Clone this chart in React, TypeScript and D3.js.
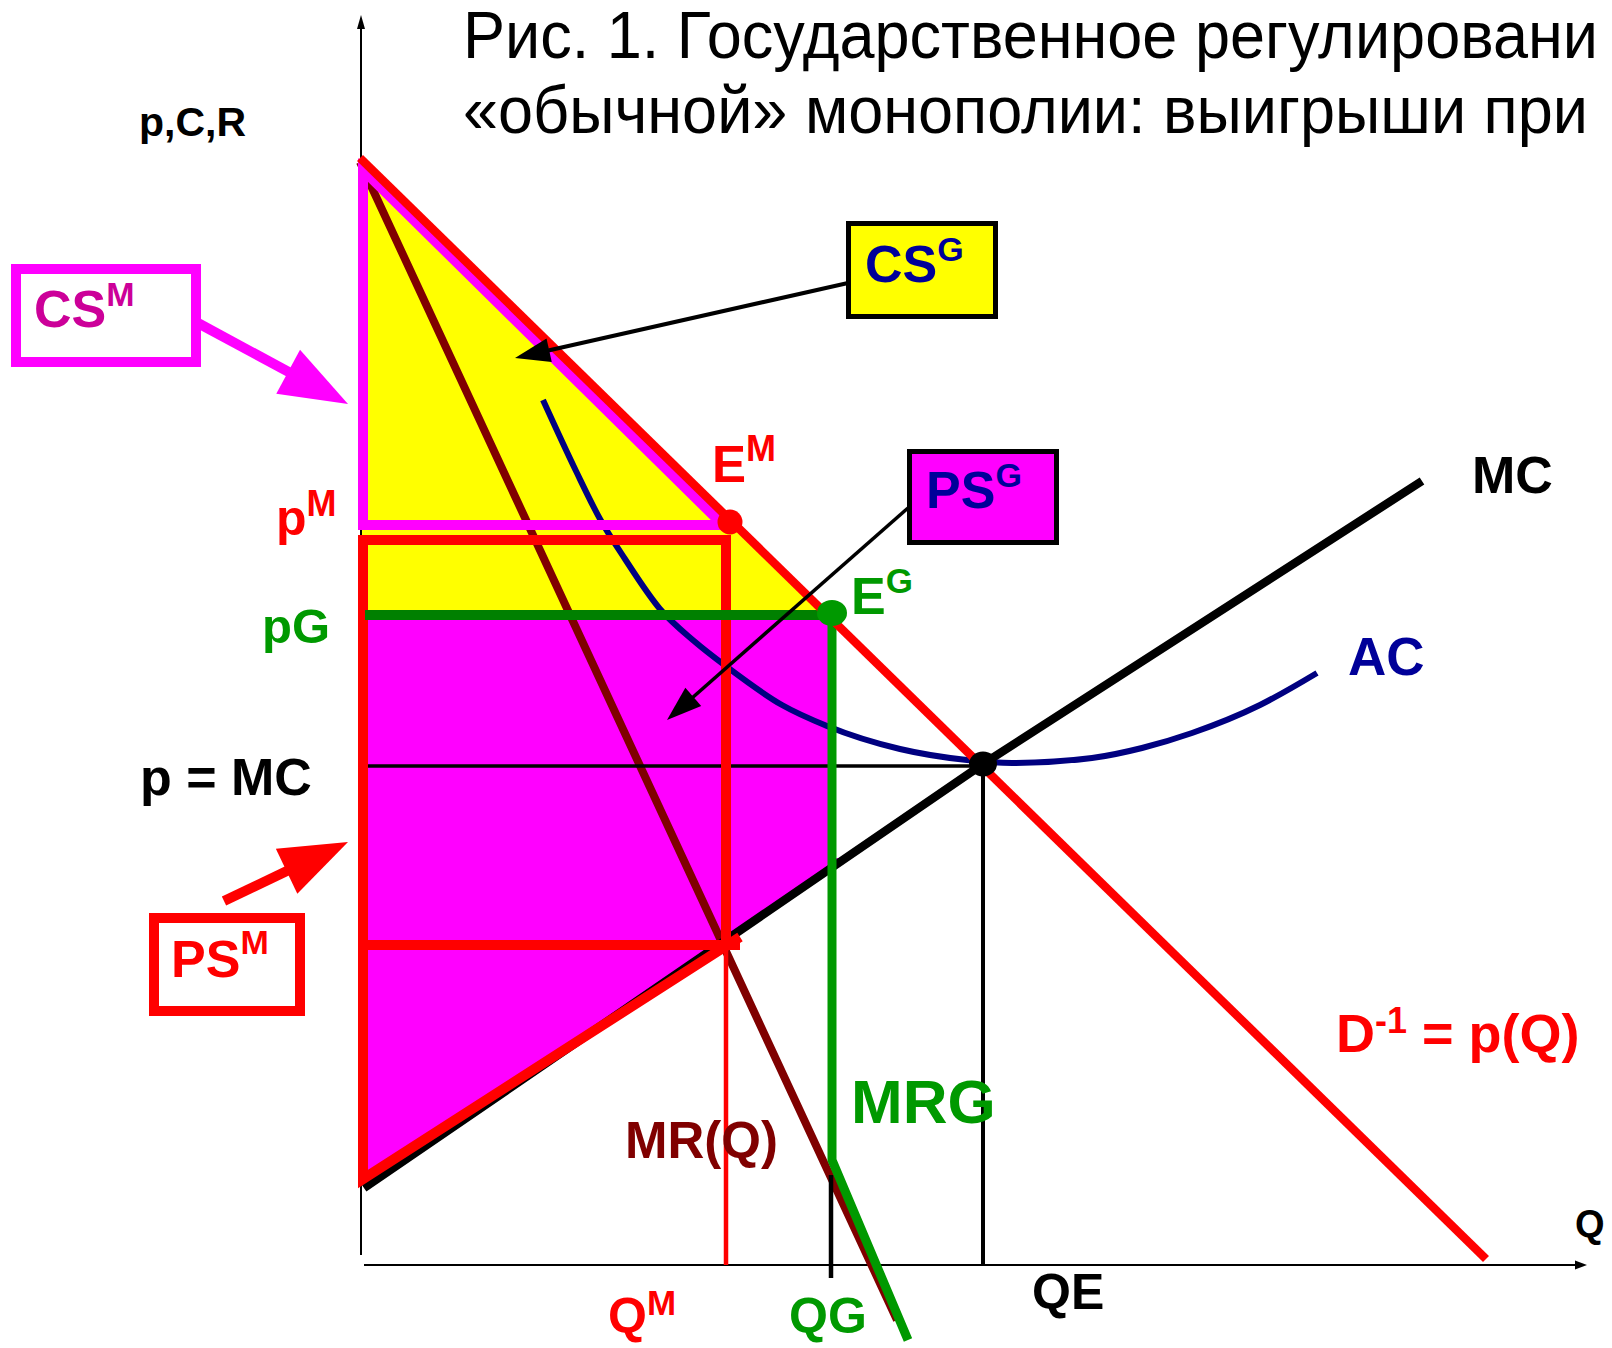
import React from "react";
import * as d3 from "d3";

type P = [number, number];

// ---- data (Q, p) ----
const demandPts: P[] = [[-0.2, 110.7], [112.4, 0.6]];
const mcPts: P[] = [[0.2, 7.7], [62.1, 50.1], [106.0, 78.4]];
const mrPts: P[] = [[-0.2, 110.3], [36.2, 31.8], [53.5, -5.5]];
const acPts: P[] = [
  [18.1, 86.5], [21.4, 79.4], [23.8, 74.6], [26.3, 70.6], [29.8, 65.6], [33.2, 62.4],
  [36.5, 59.8], [42.0, 56.0], [46.5, 53.9], [53.8, 51.6], [60.5, 50.5], [65.0, 50.2],
  [73.0, 50.7], [78.0, 51.7], [83.0, 53.2], [89.8, 56.0], [95.5, 59.2],
];
const mrgPts: P[] = [[47, 65.2], [47, 10.5], [54.6, -7.5]];
const csMOutline: P[] = [[0.1, 109.5], [36.1, 74.0], [0.1, 74.0]];
const csGArea: P[] = [[0, 110.5], [46.5, 65], [0, 65]];
const psGArea: P[] = [[0, 65], [47, 65], [47, 40.7], [48.4, 40.7], [0.2, 7.7]];
const psMFrame: P[] = [[37.8, 32.8], [0.1, 8.6], [0.1, 72.5], [36.4, 72.5], [36.4, 32]];
const psMBar: P[] = [[0.1, 32], [37.8, 32]];

const QM = 36.4;
const QG = 46.9;
const QE = 62.1;
const pE = 49.9;
const pG = 65;
const EM: P = [36.8, 74.3];
const EG: P = [47, 65.2];
const E: P = [62.1, 50.1];

const titleLines = ["Рис. 1. Государственное регулировани", "«обычной» монополии: выигрыши при"];

const FONT = "Liberation Sans, Arial, sans-serif";
const RED = "#FF0000";
const MAG = "#FF00FF";
const GREEN = "#009900";
const DGREEN = "#008000";
const NAVY = "#000099";
const MAROON = "#800000";

function Arrow({ from, to, w, hl, hw, color }: { from: P; to: P; w: number; hl: number; hw: number; color: string }) {
  const dx = to[0] - from[0];
  const dy = to[1] - from[1];
  const L = Math.hypot(dx, dy);
  const ux = dx / L, uy = dy / L;
  const bx = to[0] - ux * hl, by = to[1] - uy * hl;
  const px = -uy, py = ux;
  const head = `M${to[0]},${to[1]} L${bx + px * hw},${by + py * hw} L${bx - px * hw},${by - py * hw} Z`;
  return (
    <g>
      <line x1={from[0]} y1={from[1]} x2={bx + ux * 2} y2={by + uy * 2} stroke={color} strokeWidth={w} />
      <path d={head} fill={color} />
    </g>
  );
}

export default function App() {
  const x = d3.scaleLinear().domain([0, 122.5]).range([362, 1587]);
  const y = d3.scaleLinear().domain([0, 125]).range([1265, 15]);
  const line = d3.line<P>().x((d) => x(d[0])).y((d) => y(d[1]));
  const acLine = d3.line<P>().x((d) => x(d[0])).y((d) => y(d[1])).curve(d3.curveMonotoneX);

  const t = { fontFamily: FONT, fontWeight: 700 } as const;

  return (
    <svg
      width={1612}
      height={1348}
      viewBox="0 0 1612 1348"
      style={{ position: "absolute", left: 0, top: 0, display: "block", background: "#fff" }}
    >
      <rect x={0} y={0} width={1612} height={1348} fill="#fff" />

      {/* axes */}
      <line x1={x(-0.1)} y1={y(1)} x2={x(-0.1)} y2={y(123.8)} stroke="#000" strokeWidth={2} />
      <path d={`M${x(-0.1)},${y(125)} L${x(-0.1) - 4},${y(123.6)} L${x(-0.1) + 4},${y(123.6)} Z`} fill="#000" />
      <line x1={x(0.2)} y1={y(0)} x2={x(121.5)} y2={y(0)} stroke="#000" strokeWidth={2} />
      <path d={`M${x(122.5)},${y(0)} L${x(121.3)},${y(0) - 4.5} L${x(121.3)},${y(0) + 4.5} Z`} fill="#000" />

      {/* fills */}
      <path d={line(csGArea) + "Z"} fill="#FFFF00" />
      <path d={line(psGArea) + "Z"} fill={MAG} />

      {/* MR */}
      <path d={line(mrPts)!} fill="none" stroke={MAROON} strokeWidth={8} />
      {/* AC */}
      <path d={acLine(acPts)!} fill="none" stroke="#000080" strokeWidth={6} />

      {/* thin guides */}
      <line x1={x(0.1)} y1={y(pE)} x2={x(QE)} y2={y(pE)} stroke="#000" strokeWidth={3.5} />
      <line x1={x(QE)} y1={y(pE)} x2={x(QE)} y2={y(0)} stroke="#000" strokeWidth={4} />
      <line x1={x(QG)} y1={y(9)} x2={x(QG)} y2={y(-1.3)} stroke="#000" strokeWidth={4.5} />

      {/* MC */}
      <path d={line(mcPts)!} fill="none" stroke="#000" strokeWidth={8.5} />

      {/* CS^M outline */}
      <path d={line(csMOutline) + "Z"} fill="none" stroke={MAG} strokeWidth={10} />

      {/* PS^M frame */}
      <line x1={x(QM)} y1={y(32)} x2={x(QM)} y2={y(0)} stroke={RED} strokeWidth={4.5} />
      <path d={line(psMFrame)!} fill="none" stroke={RED} strokeWidth={10} />
      <path d={line(psMBar)!} fill="none" stroke={RED} strokeWidth={10} />

      {/* government lines */}
      <line x1={x(0.3)} y1={y(pG)} x2={x(EG[0])} y2={y(pG)} stroke={DGREEN} strokeWidth={10} />
      <path d={line(mrgPts)!} fill="none" stroke={GREEN} strokeWidth={9} />

      {/* demand */}
      <path d={line(demandPts)!} fill="none" stroke={RED} strokeWidth={8.5} />

      {/* points */}
      <circle cx={x(EM[0])} cy={y(EM[1])} r={12.5} fill={RED} />
      <ellipse cx={x(EG[0])} cy={y(EG[1])} rx={15} ry={13} fill={GREEN} />
      <ellipse cx={x(E[0])} cy={y(E[1])} rx={14} ry={12.5} fill="#000" />

      {/* annotation boxes */}
      <rect x={16} y={269} width={180} height={93} fill="#fff" stroke={MAG} strokeWidth={10} />
      <rect x={848.5} y={223.5} width={147} height={93} fill="#FFFF00" stroke="#000" strokeWidth={5} />
      <rect x={909.5} y={451.5} width={147} height={91} fill={MAG} stroke="#000" strokeWidth={5} />
      <rect x={154} y={918} width={146} height={93} fill="#fff" stroke={RED} strokeWidth={10} />

      {/* arrows */}
      <Arrow from={[196, 322]} to={[348, 404]} w={10} hl={68} hw={25} color={MAG} />
      <Arrow from={[224, 901]} to={[348, 842]} w={10} hl={68} hw={25} color={RED} />
      <Arrow from={[848, 283]} to={[515, 358]} w={4} hl={35} hw={12} color="#000" />
      <Arrow from={[908, 508]} to={[667, 720]} w={3.5} hl={35} hw={12} color="#000" />

      {/* title */}
      <g transform="translate(463,0) scale(0.955,1)">
        <text x={0} y={58} fontFamily={FONT} fontSize={66} fill="#000">{titleLines[0]}</text>
        <text x={0} y={133} fontFamily={FONT} fontSize={66} fill="#000">{titleLines[1]}</text>
      </g>

      {/* labels */}
      <text x={139} y={136} {...t} fontSize={41} fill="#000">p,C,R</text>
      <text x={34} y={327} {...t} fontSize={52} fill="#CC0099">CS<tspan dy={-21} fontSize={34}>M</tspan></text>
      <text x={865} y={282} {...t} fontSize={52} fill={NAVY}>CS<tspan dy={-21} fontSize={34}>G</tspan></text>
      <text x={926} y={508} {...t} fontSize={52} fill={NAVY}>PS<tspan dy={-21} fontSize={34}>G</tspan></text>
      <text x={171} y={977} {...t} fontSize={52} fill={RED}>PS<tspan dy={-23} fontSize={34}>M</tspan></text>
      <text x={712} y={482} {...t} fontSize={51} fill={RED}>E<tspan dy={-21} fontSize={36}>M</tspan></text>
      <text x={276} y={535} {...t} fontSize={50} fill={RED}>p<tspan dy={-19} fontSize={36}>M</tspan></text>
      <text x={262} y={643} {...t} fontSize={49} fill={GREEN}>pG</text>
      <text x={140} y={795} {...t} fontSize={52} fill="#000">p = MC</text>
      <text x={1472} y={493} {...t} fontSize={52} fill="#000">MC</text>
      <text x={1348} y={675} {...t} fontSize={53} fill={NAVY}>AC</text>
      <text x={851} y={614} {...t} fontSize={52} fill={GREEN}>E<tspan dy={-21} fontSize={35}>G</tspan></text>
      <text x={851} y={1123} {...t} fontSize={62} fill={GREEN}>MRG</text>
      <text x={625} y={1158} {...t} fontSize={51} fill={MAROON}>MR(Q)</text>
      <text x={1336} y={1052} {...t} fontSize={54} fill={RED}>D<tspan dy={-19} fontSize={36}>-1</tspan><tspan dy={19}> = p(Q)</tspan></text>
      <text x={1575} y={1237} {...t} fontSize={38} fill="#000">Q</text>
      <text x={1032} y={1309} {...t} fontSize={50} fill="#000">QE</text>
      <text x={789} y={1333} {...t} fontSize={50} fill={GREEN}>QG</text>
      <text x={608} y={1333} {...t} fontSize={50} fill={RED}>Q<tspan dy={-18} fontSize={35}>M</tspan></text>
    </svg>
  );
}
